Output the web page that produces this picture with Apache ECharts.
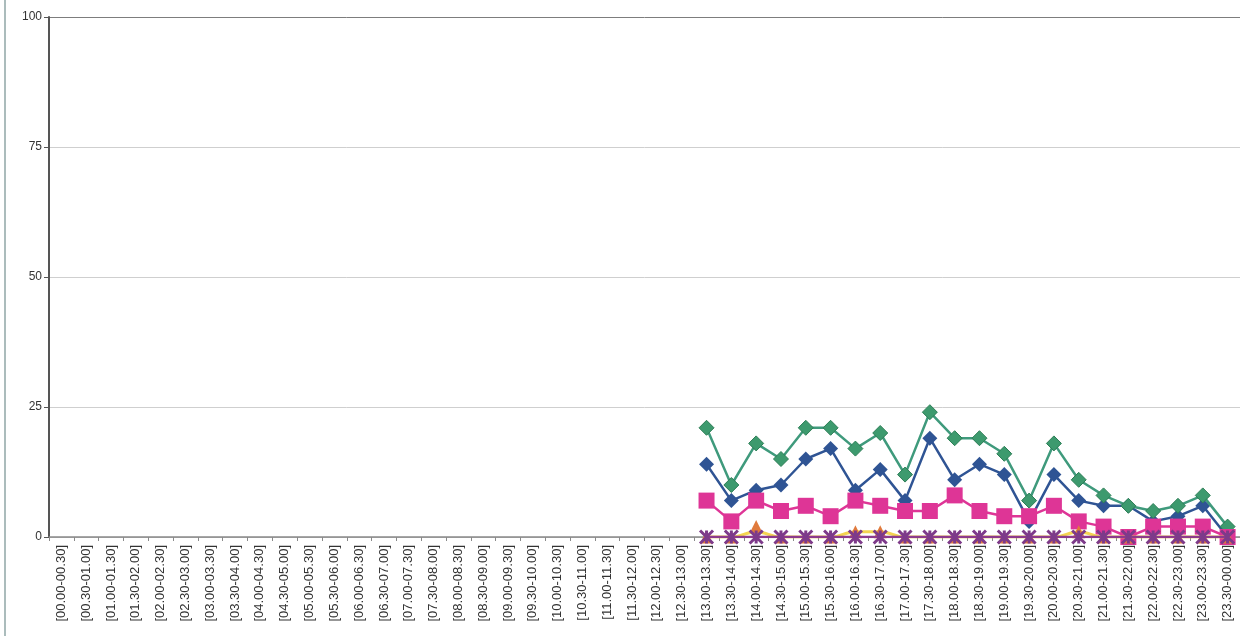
<!DOCTYPE html>
<html>
<head>
<meta charset="utf-8">
<script src="https://cdn.jsdelivr.net/npm/echarts@6/dist/echarts.min.js"></script>
<style>
  html, body { margin: 0; padding: 0; background: #fff; }
  #chart { width: 1240px; height: 636px; }
</style>
</head>
<body>
<div id="chart"></div>
<script>
// Half-hour slots over one day
const slots = [
  '[00.00-00.30]','[00.30-01.00]','[01.00-01.30]','[01.30-02.00]','[02.00-02.30]','[02.30-03.00]',
  '[03.00-03.30]','[03.30-04.00]','[04.00-04.30]','[04.30-05.00]','[05.00-05.30]','[05.30-06.00]',
  '[06.00-06.30]','[06.30-07.00]','[07.00-07.30]','[07.30-08.00]','[08.00-08.30]','[08.30-09.00]',
  '[09.00-09.30]','[09.30-10.00]','[10.00-10.30]','[10.30-11.00]','[11.00-11.30]','[11.30-12.00]',
  '[12.00-12.30]','[12.30-13.00]','[13.00-13.30]','[13.30-14.00]','[14.00-14.30]','[14.30-15.00]',
  '[15.00-15.30]','[15.30-16.00]','[16.00-16.30]','[16.30-17.00]','[17.00-17.30]','[17.30-18.00]',
  '[18.00-18.30]','[18.30-19.00]','[19.00-19.30]','[19.30-20.00]','[20.00-20.30]','[20.30-21.00]',
  '[21.00-21.30]','[21.30-22.00]','[22.00-22.30]','[22.30-23.00]','[23.00-23.30]','[23.30-00.00]'
];
const yTicks = [0, 25, 50, 75, 100];

// No readings before 13.00 (26 empty slots)
const empty = new Array(26).fill(null);

const greenVals  = empty.concat([21, 10, 18, 15, 21, 21, 17, 20, 12, 24, 19, 19, 16, 7, 18, 11, 8, 6, 5, 6, 8, 2]);
const blueVals   = empty.concat([14, 7, 9, 10, 15, 17, 9, 13, 7, 19, 11, 14, 12, 3, 12, 7, 6, 6, 3, 4, 6, 0]);
const pinkVals   = empty.concat([7, 3, 7, 5, 6, 4, 7, 6, 5, 5, 8, 5, 4, 4, 6, 3, 2, 0, 2, 2, 2, 0]);
const yellowVals = empty.concat([0, 0, 1, 0, 0, 0, 1, 1, 0, 0, 0, 0, 0, 0, 0, 1, 0, 0, 0, 0, 0, 0]);
const orangeVals = empty.concat([0, 0, 2, 0, 0, 0, 1, 1, 0, 0, 0, 0, 0, 0, 0, 1, 0, 0, 0, 0, 0, 0]);
const purpleVals = empty.concat([0, 0, 0, 0, 0, 0, 0, 0, 0, 0, 0, 0, 0, 0, 0, 0, 0, 0, 0, 0, 0, 0]);

// Asterisk marker: an X crossed by a vertical stroke
const asterisk = 'path://M0,0 L10,10 M10,0 L0,10 M5,0 L5,10';

const chart = echarts.init(document.getElementById('chart'), null, { renderer: 'canvas' });

function lineSeries(name, data, color, extra) {
  return Object.assign({
    name: name,
    type: 'line',
    data: data,
    color: color,
    connectNulls: false,
    lineStyle: { color: color, width: 2.5 },
    itemStyle: { color: color },
    animation: false
  }, extra);
}

chart.setOption({
  animation: false,
  textStyle: { fontFamily: 'Liberation Sans, Arial, sans-serif' },
  graphic: [{
    type: 'line',
    shape: { x1: 5, y1: 0, x2: 5, y2: 636 },
    style: { stroke: '#8fa6a6', lineWidth: 1.5 }
  }],
  grid: { left: 49, top: 17, width: 1200, bottom: 99, containLabel: false },
  xAxis: {
    type: 'category',
    data: slots,
    boundaryGap: true,
    axisLine: { show: true, lineStyle: { color: '#8a8a8a', width: 1.5 } },
    axisTick: { show: true, length: 4, lineStyle: { color: '#8a8a8a' } },
    axisLabel: { interval: 0, rotate: 90, fontSize: 13, color: '#333', margin: 8 },
    splitLine: { show: false }
  },
  yAxis: {
    type: 'value',
    min: yTicks[0],
    max: yTicks[yTicks.length - 1],
    interval: 25,
    axisLine: { show: true, lineStyle: { color: '#555', width: 2 } },
    axisTick: { show: true, length: 5, lineStyle: { color: '#555' } },
    axisLabel: { fontSize: 12, color: '#333', margin: 7 },
    splitLine: { show: true, lineStyle: { color: ['#bbb', '#cfcfcf', '#cfcfcf', '#cfcfcf', '#7d7d7d'], width: 1 } }
  },
  series: [
    lineSeries('blue', blueVals, '#2f5494', { symbol: 'diamond', symbolSize: 15, z: 2 }),
    lineSeries('green', greenVals, '#3f9a7c', {
      symbol: 'diamond', symbolSize: 15, z: 3,
      itemStyle: { color: '#3d9a6e', borderColor: '#2c7d55', borderWidth: 1 }
    }),
    lineSeries('pink', pinkVals, '#de3596', { symbol: 'rect', symbolSize: 16, z: 4 }),
    lineSeries('yellow', yellowVals, '#f4d451', {
      showSymbol: false, symbol: 'none', smooth: 0.4, z: 5,
      lineStyle: { color: '#f4d451', width: 3 }
    }),
    lineSeries('orange', orangeVals, '#e07a3c', {
      symbol: 'triangle', symbolSize: 13, z: 6,
      lineStyle: { width: 0, opacity: 0 }
    }),
    lineSeries('purple', purpleVals, '#85398a', {
      symbol: asterisk, symbolSize: 13, z: 7,
      lineStyle: { color: '#8d3a8c', width: 2.5 },
      itemStyle: { color: '#7d3a8a', borderColor: '#7d3a8a', borderWidth: 3 }
    })
  ]
});
</script>
</body>
</html>
